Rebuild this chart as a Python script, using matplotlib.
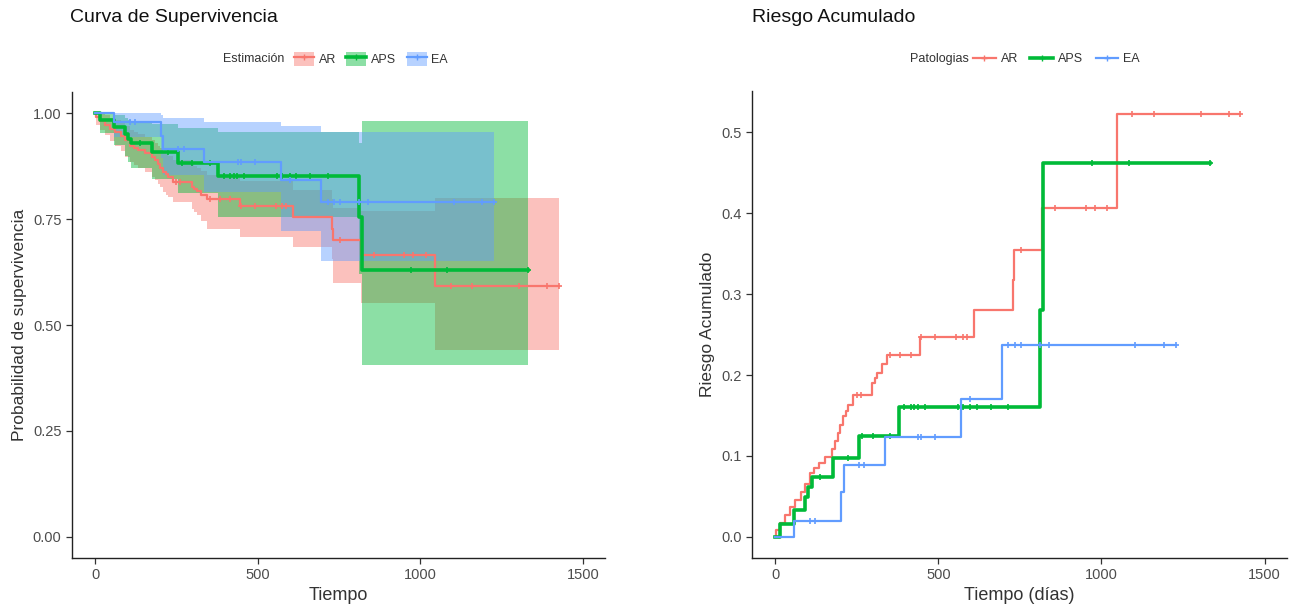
import numpy as np
import matplotlib
matplotlib.use("Agg")
import matplotlib.pyplot as plt
from matplotlib.lines import Line2D
from matplotlib.patches import Patch

plt.rcParams['font.family'] = ['Liberation Sans', 'DejaVu Sans']

# ---- datos -------------------------------------------------------------
groups = ['AR', 'APS', 'EA']
colors = {'AR': '#F8766D', 'APS': '#00BA38', 'EA': '#619CFF'}

# AR
ar_t = [0, 3, 15, 31, 46, 60, 80, 92, 107, 120, 133, 153, 174, 185, 194, 200,
        209, 218, 224, 239, 297, 305, 312, 327, 343, 445, 608, 728, 731, 818, 1046]
ar_s = [1.0, .991, .983, .973, .964, .955, .946, .936, .924, .918, .913, .906,
        .897, .889, .880, .871, .862, .856, .850, .839, .827, .822, .817, .807,
        .798, .781, .756, .728, .702, .666, .593]
ar_lo = [1.0, .973, .960, .948, .935, .922, .910, .898, .885, .878, .870, .862,
         .850, .842, .834, .826, .815, .808, .803, .790, .775, .768, .759, .745,
         .728, .708, .685, .655, .600, .553, .440]
ar_hi = [1.0, 1.0, 1.0, .996, .990, .984, .978, .970, .960, .955, .950, .945,
         .938, .931, .924, .917, .909, .904, .899, .890, .880, .876, .871, .863,
         .855, .840, .820, .798, .776, .770, .800]
ar_h = [0, .009, .017, .027, .037, .046, .056, .066, .079, .085, .091, .099,
        .109, .118, .128, .138, .149, .156, .163, .175, .190, .196, .202, .214,
        .225, .247, .280, .317, .354, .406, .523]
ar_end = 1425
ar_cens = [250, 262, 352, 384, 416, 448, 491, 555, 576, 587, 752, 859, 951,
           979, 1018, 1094, 1160, 1304, 1390, 1425]

# APS
aps_t = [0, 16, 59, 91, 101, 112, 176, 256, 379, 813, 822]
aps_s = [1.0, .984, .968, .952, .940, .929, .908, .882, .851, .756, .630]
aps_lo = [1.0, .954, .925, .900, .885, .872, .845, .812, .755, .620, .405]
aps_hi = [1.0, 1.0, .995, .990, .985, .980, .975, .965, .955, .930, .982]
aps_h = [0, .0165, .033, .049, .062, .074, .097, .125, .161, .280, .462]
aps_end = 1332
aps_cens = [139, 224, 267, 299, 352, 395, 416, 427, 437, 459, 560, 576, 598,
            619, 662, 715, 971, 1083, 1332]

# EA
ea_t = [0, 59, 203, 210, 336, 571, 694]
ea_s = [1.0, .980, .947, .915, .884, .843, .790]
ea_lo = [1.0, .943, .895, .855, .815, .723, .652]
ea_hi = [1.0, 1.0, .995, .988, .979, .970, .956]
ea_h = [0, .020, .055, .089, .124, .171, .237]
ea_end = 1228
ea_cens = [107, 123, 256, 272, 438, 448, 491, 598, 715, 736, 752, 813, 838,
           1104, 1191, 1228]

data = {
    'AR': (ar_t, ar_s, ar_lo, ar_hi, ar_h, ar_end, ar_cens),
    'APS': (aps_t, aps_s, aps_lo, aps_hi, aps_h, aps_end, aps_cens),
    'EA': (ea_t, ea_s, ea_lo, ea_hi, ea_h, ea_end, ea_cens),
}
line_w = {'AR': 1.6, 'APS': 2.6, 'EA': 1.6}

x_ticks = [0, 500, 1000, 1500]


def ext(t, v, end):
    return np.append(t, end), np.append(v, v[-1])


def at_times(t, v, when):
    idx = np.searchsorted(t, when, side='right') - 1
    return np.asarray(v)[idx]


def style_axes(ax):
    for s in ['top', 'right']:
        ax.spines[s].set_visible(False)
    for s in ['left', 'bottom']:
        ax.spines[s].set_color('#222222')
        ax.spines[s].set_linewidth(1.0)
    ax.tick_params(colors='#333333', labelcolor='#4D4D4D', labelsize=10.5,
                   length=4, width=0.9)


fig = plt.figure(figsize=(12.94, 6.05), dpi=100)
ax1 = fig.add_axes([0.0556, 0.0777, 0.412, 0.770])
ax2 = fig.add_axes([0.5811, 0.0777, 0.4134, 0.772])

# ---- Curva de supervivencia ---------------------------------------------
for g in groups:
    t, s, lo, hi, h, end, cens = data[g]
    tx, lox = ext(t, lo, end)
    _, hix = ext(t, hi, end)
    ax1.fill_between(tx, lox, hix, step='post', color=colors[g], alpha=0.45,
                     linewidth=0)
for g in groups:
    t, s, lo, hi, h, end, cens = data[g]
    tx, sx = ext(t, s, end)
    ax1.step(tx, sx, where='post', color=colors[g], lw=line_w[g])
    ax1.plot(cens, at_times(t, s, cens), '+', color=colors[g], ms=5, mew=1.2)

ax1.set_xlim(-71, 1568)
ax1.set_ylim(-0.05, 1.05)
ax1.set_xticks(x_ticks)
ax1.set_yticks([0, 0.25, 0.5, 0.75, 1.0])
ax1.set_yticklabels(['0.00', '0.25', '0.50', '0.75', '1.00'])
ax1.set_xlabel('Tiempo', fontsize=13, color='#333333', labelpad=3)
ax1.set_ylabel('Probabilidad de supervivencia', fontsize=12.5, color='#333333',
               labelpad=4)
style_axes(ax1)

# ---- Riesgo acumulado ---------------------------------------------------
for g in groups:
    t, s, lo, hi, h, end, cens = data[g]
    tx, hx = ext(t, h, end)
    ax2.step(tx, hx, where='post', color=colors[g], lw=line_w[g])
    ax2.plot(cens, at_times(t, h, cens), '+', color=colors[g], ms=5, mew=1.2)

ax2.set_xlim(-71, 1568)
ax2.set_ylim(-0.026, 0.551)
ax2.set_xticks(x_ticks)
ax2.set_yticks([0, 0.1, 0.2, 0.3, 0.4, 0.5])
ax2.set_xlabel('Tiempo (días)', fontsize=13, color='#333333', labelpad=3)
ax2.set_ylabel('Riesgo Acumulado', fontsize=12.5, color='#333333', labelpad=4)
style_axes(ax2)

# ---- títulos y leyendas -------------------------------------------------
fig.text(70 / 1294, 1 - 18 / 605, 'Curva de Supervivencia', fontsize=14,
         va='center', ha='left', color='#111111')
fig.text(752 / 1294, 1 - 18 / 605, 'Riesgo Acumulado', fontsize=14,
         va='center', ha='left', color='#111111')

fig.text(223 / 1294, 1 - 59 / 605, 'Estimación', fontsize=9, va='center',
         ha='left', color='#333333')
h1 = [(Patch(facecolor=colors[g], alpha=0.45, linewidth=0),
       Line2D([], [], color=colors[g], lw=line_w[g], marker='+', ms=5))
      for g in groups]
fig.legend(h1, groups, loc='center left',
           bbox_to_anchor=(294 / 1294, 1 - 59 / 605), ncol=3, frameon=False,
           fontsize=9, handlelength=1.6, handleheight=1.4, columnspacing=0.8,
           handletextpad=0.4, borderaxespad=0, borderpad=0,
           labelcolor='#333333')

fig.text(910 / 1294, 1 - 59 / 605, 'Patologias', fontsize=9, va='center',
         ha='left', color='#333333')
h2 = [Line2D([], [], color=colors[g], lw=line_w[g], marker='+', ms=5)
      for g in groups]
fig.legend(h2, groups, loc='center left',
           bbox_to_anchor=(973 / 1294, 1 - 59 / 605), ncol=3, frameon=False,
           fontsize=9, handlelength=1.8, columnspacing=1.0,
           handletextpad=0.4, borderaxespad=0, borderpad=0,
           labelcolor='#333333')

fig.savefig('out.png', dpi=100)
